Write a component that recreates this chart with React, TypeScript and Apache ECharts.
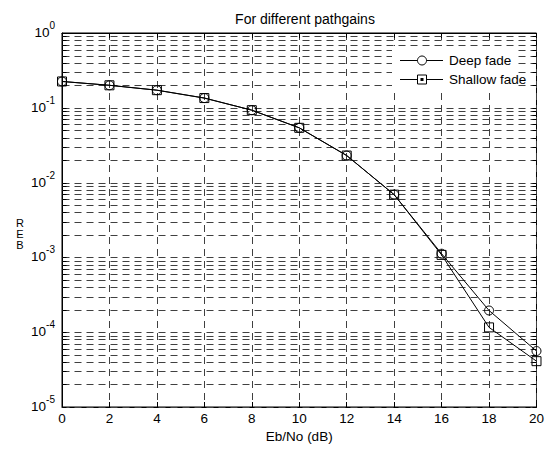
import React, { useEffect, useRef } from "react";
import * as echarts from "echarts";

const ebno = [0, 2, 4, 6, 8, 10, 12, 14, 16, 18, 20];
const deepFade = [0.225, 0.2, 0.172, 0.135, 0.093, 0.054, 0.023, 0.0069, 0.00112, 1.95e-4, 5.6e-5];
const shallowFade = [0.225, 0.2, 0.172, 0.135, 0.093, 0.054, 0.023, 0.0069, 0.00108, 1.16e-4, 4.1e-5];
const decades = [-5, -4, -3, -2, -1];
const mantissas = [1, 2, 3, 4, 5, 6, 7, 8, 9];
const yGrid: number[] = [];
decades.forEach((d) => mantissas.forEach((m) => yGrid.push(m * Math.pow(10, d))));

const FONT = "Arial, 'Liberation Sans', sans-serif";
const FS = 13.5;

export default function App() {
  const ref = useRef<HTMLDivElement>(null);
  useEffect(() => {
    const chart = echarts.init(ref.current!, null, { renderer: "svg" });
    const option: any = {
      animation: false,
      backgroundColor: "#fff",
      title: {
        text: "For different pathgains",
        left: 300,
        textAlign: "center",
        top: 7,
        textStyle: { fontSize: 14, fontWeight: "normal", color: "#000", fontFamily: FONT },
      },
      grid: { left: 62, right: 6, top: 33, bottom: 42, show: true, borderColor: "#000", borderWidth: 1, backgroundColor: "transparent" },
      xAxis: [
        {
          type: "value",
          min: 0,
          max: 20,
          interval: 2,
          name: "Eb/No (dB)",
          nameLocation: "middle",
          nameGap: 19,
          nameTextStyle: { fontSize: FS, color: "#000", fontFamily: FONT },
          axisLine: { show: true, lineStyle: { color: "#000" } },
          axisTick: { show: true, inside: true, length: 5, lineStyle: { color: "#000" } },
          axisLabel: { fontSize: FS, color: "#000", fontFamily: FONT, margin: 4 },
          splitLine: { show: true, lineStyle: { color: "#404040", type: [7, 5], width: 1 } },
        },
        {
          type: "value",
          position: "top",
          min: 0,
          max: 20,
          interval: 2,
          axisLine: { show: true, lineStyle: { color: "#000" } },
          axisTick: { show: true, inside: true, length: 5, lineStyle: { color: "#000" } },
          axisLabel: { show: false },
          splitLine: { show: false },
        },
      ],
      yAxis: {
        type: "log",
        logBase: 10,
        min: 1e-5,
        max: 1,
        axisLine: { show: true, lineStyle: { color: "#000" } },
        axisTick: { show: false },
        splitLine: { show: false },
        axisLabel: {
          margin: 7,
          padding: [0, 0, 6, 0],
          formatter: (v: number) => {
            const e = Math.round(Math.log10(v));
            return "{b|10}{e|" + e + "}";
          },
          rich: {
            b: { fontSize: FS, color: "#000", fontFamily: FONT, verticalAlign: "bottom", lineHeight: 19 },
            e: { fontSize: 10, color: "#000", fontFamily: FONT, verticalAlign: "top", lineHeight: 19 },
          },
        },
      },
      series: [
        {
          type: "custom",
          silent: true,
          z: 1,
          data: yGrid.map((v) => [0, v]),
          encode: { x: 0, y: 1 },
          renderItem: (params: any, api: any) => {
            const v = api.value(1);
            const a = api.coord([0, v]);
            const b = api.coord([20, v]);
            const y = Math.round(a[1]) + 0.5;
            const x1 = Math.round(a[0]) + 0.5;
            const x2 = Math.round(b[0]) + 0.5;
            return {
              type: "group",
              children: [
                { type: "line", shape: { x1, y1: y, x2, y2: y }, style: { stroke: "#404040", lineWidth: 1, lineDash: [7, 5] } },
                { type: "line", shape: { x1, y1: y, x2: x1 + 4, y2: y }, style: { stroke: "#000", lineWidth: 1 } },
                { type: "line", shape: { x1: x2 - 4, y1: y, x2, y2: y }, style: { stroke: "#000", lineWidth: 1 } },
              ],
            };
          },
        },
        {
          name: "Deep fade",
          type: "line",
          z: 3,
          data: ebno.map((x, i) => [x, deepFade[i]]),
          symbol: "circle",
          symbolSize: 9,
          itemStyle: { color: "rgba(0,0,0,0)", borderColor: "#000", borderWidth: 1 },
          lineStyle: { color: "#000", width: 1 },
        },
        {
          name: "Shallow fade",
          type: "line",
          z: 4,
          data: ebno.map((x, i) => [x, shallowFade[i]]),
          symbol: "rect",
          symbolSize: 9,
          itemStyle: { color: "rgba(0,0,0,0)", borderColor: "#000", borderWidth: 1 },
          lineStyle: { color: "#000", width: 1 },
        },
      ],
      graphic: [
        { type: "rect", z: 50, shape: { x: 392, y: 46, width: 126, height: 46 }, style: { fill: "#fff" } },
        { type: "line", z: 51, shape: { x1: 400, y1: 60.5, x2: 443, y2: 60.5 }, style: { stroke: "#000", lineWidth: 1 } },
        { type: "circle", z: 52, shape: { cx: 422, cy: 60.5, r: 4.5 }, style: { fill: "#fff", stroke: "#000", lineWidth: 1 } },
        { type: "text", z: 52, x: 449, y: 60, style: { text: "Deep fade", fontSize: FS, fontFamily: FONT, fill: "#000", verticalAlign: "middle" } },
        { type: "line", z: 51, shape: { x1: 400, y1: 79.5, x2: 443, y2: 79.5 }, style: { stroke: "#000", lineWidth: 1 } },
        { type: "rect", z: 52, shape: { x: 417.5, y: 75, width: 9, height: 9 }, style: { fill: "#fff", stroke: "#000", lineWidth: 1 } },
        { type: "rect", z: 53, shape: { x: 420.5, y: 78, width: 3, height: 3 }, style: { fill: "#000" } },
        { type: "text", z: 52, x: 449, y: 79, style: { text: "Shallow fade", fontSize: FS, fontFamily: FONT, fill: "#000", verticalAlign: "middle" } },
        { type: "text", z: 52, x: 20, y: 217, style: { text: "R\nE\nB", fontSize: 11, lineHeight: 11, fontFamily: FONT, fill: "#000", align: "center", verticalAlign: "top" } },
      ],
    };
    chart.setOption(option);
    return () => chart.dispose();
  }, []);
  return <div ref={ref} style={{ width: 547, height: 449, position: "absolute", left: 0, top: 0 }} />;
}
